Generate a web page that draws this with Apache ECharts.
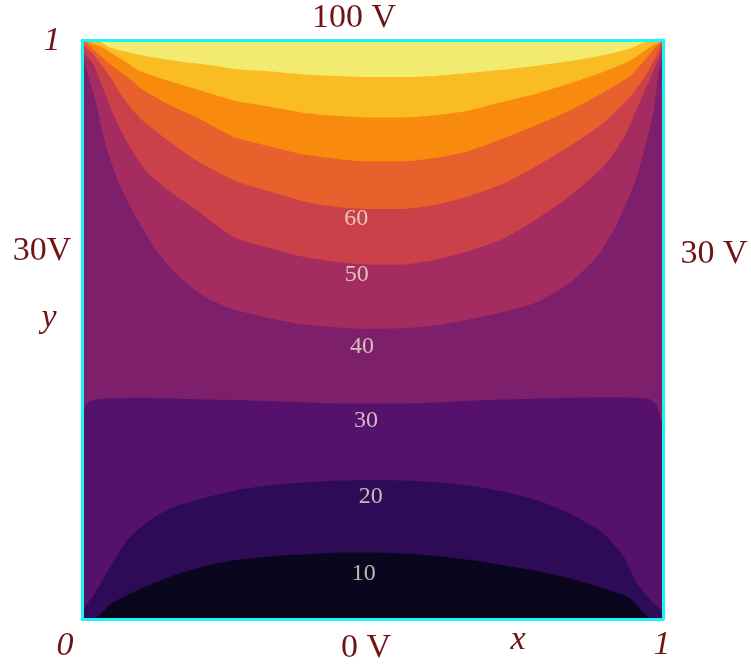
<!DOCTYPE html>
<html>
<head>
<meta charset="utf-8">
<script src="https://cdn.jsdelivr.net/npm/echarts@6/dist/echarts.min.js"></script>
<style>
html,body{margin:0;padding:0;background:#fff;}
#chart{width:751px;height:666px;}
</style>
</head>
<body>
<div id="chart"></div>
<script>
// Contour lines: [x, y] pairs (unit square)
const c90 = [[0,1],[0.031,0.997],[0.048,0.987],[0.083,0.978],[0.111,0.972],[0.169,0.963],[0.226,0.956],[0.263,0.950],[0.321,0.946],[0.378,0.941],[0.435,0.938],[0.493,0.936],[0.550,0.936],[0.607,0.938],[0.665,0.943],[0.728,0.949],[0.785,0.956],[0.843,0.964],[0.900,0.974],[0.946,0.986],[0.969,0.996],[1,1]];
const c80 = [[0,1],[0.031,0.989],[0.050,0.978],[0.083,0.957],[0.100,0.946],[0.150,0.929],[0.200,0.914],[0.263,0.895],[0.321,0.885],[0.378,0.875],[0.435,0.869],[0.493,0.866],[0.550,0.866],[0.607,0.870],[0.665,0.878],[0.728,0.894],[0.785,0.908],[0.843,0.926],[0.900,0.946],[0.946,0.966],[0.980,0.989],[1,1]];
const c70 = [[0,1],[0.008,0.995],[0.020,0.983],[0.050,0.957],[0.083,0.932],[0.100,0.917],[0.150,0.888],[0.200,0.865],[0.263,0.832],[0.321,0.817],[0.378,0.803],[0.435,0.795],[0.493,0.790],[0.550,0.790],[0.607,0.796],[0.665,0.808],[0.728,0.831],[0.785,0.854],[0.843,0.880],[0.900,0.911],[0.946,0.940],[0.986,0.986],[1,1]];
const c60 = [[0,1],[0.005,0.989],[0.020,0.975],[0.050,0.934],[0.071,0.900],[0.100,0.865],[0.150,0.825],[0.200,0.790],[0.263,0.757],[0.321,0.739],[0.378,0.722],[0.435,0.712],[0.493,0.708],[0.550,0.708],[0.607,0.715],[0.665,0.730],[0.728,0.753],[0.785,0.784],[0.843,0.819],[0.900,0.859],[0.946,0.905],[0.975,0.946],[0.992,0.980],[1,1]];
const c50 = [[0,1],[0.002,0.980],[0.020,0.957],[0.054,0.871],[0.083,0.814],[0.111,0.773],[0.150,0.739],[0.200,0.704],[0.263,0.659],[0.321,0.641],[0.378,0.626],[0.435,0.617],[0.493,0.612],[0.550,0.612],[0.607,0.620],[0.665,0.635],[0.728,0.658],[0.785,0.692],[0.843,0.733],[0.900,0.784],[0.935,0.836],[0.958,0.888],[0.981,0.940],[0.995,0.975],[1,1]];
const c40 = [[0,1],[0.002,0.972],[0.025,0.888],[0.042,0.814],[0.065,0.750],[0.094,0.692],[0.129,0.635],[0.169,0.589],[0.215,0.554],[0.263,0.534],[0.321,0.520],[0.378,0.509],[0.435,0.504],[0.493,0.501],[0.550,0.502],[0.607,0.507],[0.665,0.517],[0.728,0.531],[0.785,0.548],[0.843,0.583],[0.889,0.629],[0.923,0.687],[0.952,0.756],[0.969,0.814],[0.984,0.877],[0.992,0.940],[0.998,0.969],[1,1]];
const c30 = [[0,0.33],[0.005,0.366],[0.014,0.377],[0.045,0.381],[0.103,0.382],[0.160,0.381],[0.218,0.379],[0.275,0.378],[0.332,0.376],[0.390,0.374],[0.447,0.372],[0.504,0.372],[0.553,0.372],[0.610,0.374],[0.668,0.377],[0.725,0.379],[0.783,0.381],[0.840,0.382],[0.897,0.383],[0.955,0.382],[0.978,0.379],[0.989,0.369],[0.995,0.349],[1,0.33]];
const c20 = [[0,0],[0.002,0.016],[0.022,0.044],[0.045,0.084],[0.074,0.131],[0.103,0.160],[0.131,0.180],[0.160,0.194],[0.218,0.211],[0.275,0.224],[0.332,0.232],[0.390,0.236],[0.447,0.239],[0.504,0.240],[0.553,0.239],[0.610,0.236],[0.668,0.230],[0.725,0.220],[0.783,0.205],[0.840,0.182],[0.897,0.148],[0.932,0.108],[0.955,0.062],[0.978,0.033],[0.995,0.016],[1,0]];
const c10 = [[0,0],[0.022,0.001],[0.051,0.027],[0.103,0.053],[0.160,0.076],[0.218,0.093],[0.275,0.103],[0.332,0.109],[0.390,0.112],[0.447,0.115],[0.504,0.115],[0.553,0.113],[0.610,0.109],[0.668,0.102],[0.725,0.093],[0.783,0.083],[0.840,0.070],[0.897,0.053],[0.943,0.036],[0.978,0.001],[1,0]];

// Band colours (0-10 ... 90-100)
const bandColors = ['#09061d','#2e0b57','#56116d','#7e1f6c','#a52c60','#cb4149','#e8602b','#f88b0e','#f9bc22','#f2eb6f'];

// Contour label positions [x, y, level]
const contourLabels = [[0.472,0.691,60],[0.473,0.594,50],[0.482,0.470,40],[0.489,0.342,30],[0.497,0.211,20],[0.485,0.078,10]];

// Boundary annotations
const edgeTexts = ['100 V','30V','30 V','0 V'];

const upper = [[c40,4],[c50,5],[c60,6],[c70,7],[c80,8],[c90,9]];
const lower = [[c30,2],[c20,1],[c10,0]];

const series = [];
upper.forEach(([d,b],i)=>{
  series.push({type:'line',data:d,smooth:0.2,symbol:'none',lineStyle:{width:0},
    areaStyle:{origin:'end',color:bandColors[b],opacity:1},z:2+i*0.01,silent:true});
});
lower.forEach(([d,b],i)=>{
  series.push({type:'line',data:d,smooth:0.2,symbol:'none',lineStyle:{width:0},
    areaStyle:{origin:'start',color:bandColors[b],opacity:1},z:3+i*0.01,silent:true});
});
series.push({type:'scatter',data:contourLabels,symbolSize:1,itemStyle:{color:'rgba(0,0,0,0)'},z:5,
  label:{show:true,position:'inside',formatter:p=>String(p.value[2]),color:'#efe5d2',fontSize:24,fontFamily:'Liberation Serif'}});

const axisCommon = {type:'value',min:0,max:1,axisTick:{show:false},axisLabel:{show:false},splitLine:{show:false},
  axisLine:{show:true,onZero:false,lineStyle:{color:'#19f4f4',width:3}},z:10};

const txtColor = '#6e1414';
function t(text,x,y,size,italic){
  return {type:'text',x:x,y:y,z:20,style:{text:text,fill:txtColor,font:(italic?'italic ':'')+size+'px "Liberation Serif"',textAlign:'center',textVerticalAlign:'bottom'}};
}

const chart = echarts.init(document.getElementById('chart'),null,{renderer:'canvas'});
chart.setOption({
  animation:false,
  backgroundColor:'#ffffff',
  grid:{left:82,right:88,top:40,bottom:47,show:true,backgroundColor:bandColors[3],borderWidth:0},
  xAxis:[Object.assign({position:'bottom'},axisCommon),Object.assign({position:'top'},axisCommon)],
  yAxis:[Object.assign({position:'left'},axisCommon),Object.assign({position:'right'},axisCommon)],
  series:series,
  graphic:[
    t(edgeTexts[0],354,35,34,false),
    t(edgeTexts[1],42,268,34,false),
    t(edgeTexts[2],714,271,34,false),
    t(edgeTexts[3],366,665,34,false),
    t('1',52,58,34,true),
    t('y',49,335,34,true),
    t('0',65,663,34,true),
    t('x',518,657,34,true),
    t('1',662,662,34,true)
  ]
});
</script>
</body>
</html>
